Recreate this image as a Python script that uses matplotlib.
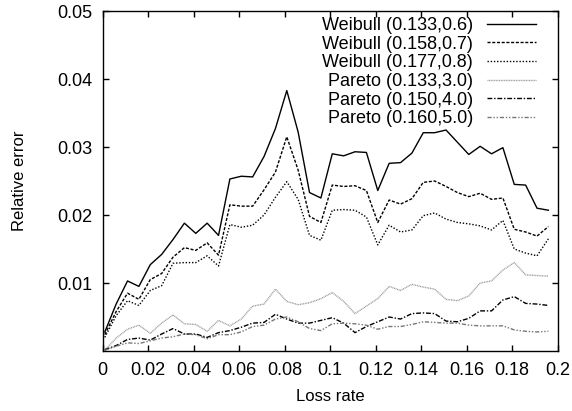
import matplotlib
matplotlib.use("Agg")
import matplotlib.pyplot as plt

loss_rate = [0.001, 0.006, 0.011, 0.016, 0.021, 0.026, 0.031, 0.036, 0.041, 0.046,
             0.051, 0.056, 0.061, 0.066, 0.071, 0.076, 0.081, 0.086, 0.091, 0.096,
             0.101, 0.106, 0.111, 0.116, 0.121, 0.126, 0.131, 0.136, 0.141, 0.146,
             0.151, 0.156, 0.161, 0.166, 0.171, 0.176, 0.181, 0.186, 0.191, 0.196]

weibull_06 = [0.0028, 0.0069, 0.0103, 0.0095, 0.0127, 0.0142, 0.0164, 0.0188, 0.0173, 0.0188,
              0.0170, 0.0253, 0.0257, 0.0256, 0.0286, 0.0327, 0.0383, 0.0322, 0.0233, 0.0225,
              0.0290, 0.0287, 0.0293, 0.0292, 0.0236, 0.0276, 0.0277, 0.0291, 0.0321, 0.0321,
              0.0325, 0.0307, 0.0289, 0.0301, 0.0290, 0.0299, 0.0245, 0.0244, 0.0210, 0.0207]

weibull_07 = [0.0024, 0.0058, 0.0085, 0.0076, 0.0105, 0.0114, 0.0138, 0.0152, 0.0148, 0.0159,
              0.0141, 0.0215, 0.0213, 0.0213, 0.0237, 0.0263, 0.0315, 0.0266, 0.0198, 0.0189,
              0.0244, 0.0242, 0.0243, 0.0236, 0.0189, 0.0222, 0.0216, 0.0224, 0.0248, 0.0250,
              0.0242, 0.0233, 0.0227, 0.0232, 0.0223, 0.0225, 0.0179, 0.0175, 0.0169, 0.0183]

weibull_08 = [0.0020, 0.0052, 0.0074, 0.0067, 0.0089, 0.0096, 0.0129, 0.0130, 0.0130, 0.0140,
              0.0125, 0.0186, 0.0182, 0.0185, 0.0200, 0.0226, 0.0249, 0.0223, 0.0170, 0.0163,
              0.0207, 0.0208, 0.0207, 0.0197, 0.0156, 0.0185, 0.0175, 0.0178, 0.0199, 0.0203,
              0.0194, 0.0189, 0.0187, 0.0184, 0.0178, 0.0192, 0.0150, 0.0144, 0.0140, 0.0165]

pareto_30 = [0.0001, 0.0019, 0.0032, 0.0038, 0.0026, 0.0041, 0.0053, 0.0040, 0.0039, 0.0029,
             0.0045, 0.0037, 0.0047, 0.0066, 0.0069, 0.0091, 0.0073, 0.0068, 0.0071, 0.0077,
             0.0086, 0.0073, 0.0055, 0.0066, 0.0077, 0.0095, 0.0089, 0.0098, 0.0094, 0.0091,
             0.0076, 0.0074, 0.0081, 0.0100, 0.0103, 0.0119, 0.0130, 0.0112, 0.0111, 0.0110]

pareto_40 = [0.0002, 0.0008, 0.0017, 0.0019, 0.0016, 0.0025, 0.0033, 0.0025, 0.0025, 0.0020,
             0.0027, 0.0030, 0.0035, 0.0041, 0.0042, 0.0054, 0.0047, 0.0041, 0.0041, 0.0045,
             0.0049, 0.0041, 0.0027, 0.0036, 0.0043, 0.0050, 0.0047, 0.0055, 0.0056, 0.0055,
             0.0044, 0.0043, 0.0048, 0.0059, 0.0059, 0.0075, 0.0080, 0.0070, 0.0069, 0.0067]

pareto_50 = [0.0001, 0.0007, 0.0012, 0.0011, 0.0015, 0.0019, 0.0021, 0.0025, 0.0024, 0.0018,
             0.0024, 0.0024, 0.0028, 0.0036, 0.0038, 0.0047, 0.0050, 0.0043, 0.0033, 0.0030,
             0.0040, 0.0041, 0.0040, 0.0038, 0.0032, 0.0036, 0.0036, 0.0039, 0.0043, 0.0042,
             0.0041, 0.0041, 0.0038, 0.0037, 0.0037, 0.0037, 0.0031, 0.0029, 0.0028, 0.0029]

labels = ["Weibull (0.133,0.6)", "Weibull (0.158,0.7)", "Weibull (0.177,0.8)",
          "Pareto (0.133,3.0)", "Pareto (0.150,4.0)", "Pareto (0.160,5.0)"]

x_ticks = [0, 0.02, 0.04, 0.06, 0.08, 0.1, 0.12, 0.14, 0.16, 0.18, 0.2]
x_tick_labels = ["0", "0.02", "0.04", "0.06", "0.08", "0.1", "0.12", "0.14", "0.16", "0.18", "0.2"]
y_ticks = [0.01, 0.02, 0.03, 0.04, 0.05]
y_tick_labels = ["0.01", "0.02", "0.03", "0.04", "0.05"]

plt.rcParams['font.family'] = ['Liberation Sans', 'DejaVu Sans']
plt.rcParams['font.size'] = 13

fig = plt.figure(figsize=(5.72, 4.11), dpi=100)
ax = fig.add_axes([102.5 / 572, 1 - 351 / 411, (557.5 - 102.5) / 572, 340 / 411])

series = [weibull_06, weibull_07, weibull_08, pareto_30, pareto_40, pareto_50]
styles = [
    dict(color="black", linestyle="-"),
    dict(color="black", linestyle=(0, (2.2, 1.2))),
    dict(color="black", linestyle=(0, (1.0, 1.3))),
    dict(color="#9a9a9a", linestyle=(0, (0.7, 0.5))),
    dict(color="black", linestyle=(0, (3.5, 1.3, 1.0, 1.3))),
    dict(color="#777777", linestyle=(0, (3.0, 1.3, 1.0, 1.3, 1.0, 1.3))),
]
for ys, lab, st in zip(series, labels, styles):
    ax.plot(loss_rate, ys, label=lab, linewidth=1.0, **st)

ax.set_xlim(0, 0.2)
ax.set_ylim(0, 0.05)
ax.set_xticks(x_ticks)
ax.set_xticklabels(x_tick_labels)
ax.set_yticks(y_ticks)
ax.set_yticklabels(y_tick_labels)
ax.tick_params(direction="in", length=4, width=1, top=True, right=True, labelsize=13)
ax.tick_params(axis="x", pad=8)
ax.tick_params(axis="y", pad=7)
for sp in ax.spines.values():
    sp.set_linewidth(1.0)

ax.set_xlabel("Loss rate", fontsize=12, labelpad=7)
ax.set_ylabel("Relative error", fontsize=12, labelpad=22)

leg = ax.legend(loc="upper right", bbox_to_anchor=(0.953, 0.982), frameon=False,
                markerfirst=False, handlelength=2.7, handletextpad=0.8,
                labelspacing=0.09, borderaxespad=0.0, borderpad=0.0, fontsize=13)

fig.savefig("out.png", dpi=100)
